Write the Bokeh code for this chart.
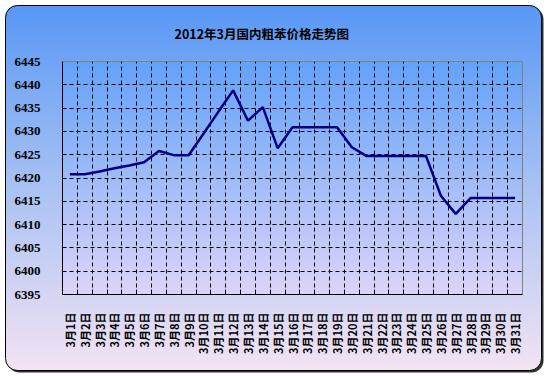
import numpy as np
from urllib.parse import quote
from bokeh.plotting import figure
from bokeh.models import Range1d, FixedTicker
from bokeh.embed import file_html
from bokeh.resources import INLINE

# ---- data ----
title_text = "2012年3月国内粗苯价格走势图"
dates = [f"3月{d}日" for d in range(1, 32)]
prices = [6420.8, 6420.8, 6421.4, 6422.1, 6422.7, 6423.4, 6425.8, 6424.9, 6424.9,
          6429.5, 6434.2, 6438.8, 6432.3, 6435.2, 6426.4, 6430.9, 6430.9, 6430.9,
          6430.9, 6426.6, 6424.7, 6424.7, 6424.7, 6424.7, 6424.7, 6416.2, 6412.3,
          6415.7, 6415.7, 6415.7, 6415.7]
y_ticks = list(range(6395, 6446, 5))

W, H = 548, 376
FL, FT, FR, FB = 62, 61, 522, 294   # frame edges (canvas px)

# decorative background: rounded gradient panel + plot-area gradient
svg = (
    "<svg xmlns='http://www.w3.org/2000/svg' width='548' height='376'>"
    "<defs>"
    "<linearGradient id='g' x1='0' y1='0' x2='0' y2='1'>"
    "<stop offset='0' stop-color='#5797f5'/><stop offset='0.5' stop-color='#a9c2f3'/>"
    "<stop offset='1' stop-color='#f3e3f3'/></linearGradient>"
    "<linearGradient id='f' x1='0' y1='0' x2='0' y2='1'>"
    "<stop offset='0' stop-color='#62a2f8'/><stop offset='1' stop-color='#dcd4f8'/>"
    "</linearGradient></defs>"
    "<rect x='7.5' y='7.5' width='536' height='365' rx='12' fill='#303030'/>"
    "<rect x='5.5' y='5.5' width='536' height='365' rx='12' fill='url(#g)' stroke='black'/>"
    f"<rect x='{FL}' y='{FT}' width='{FR - FL}' height='{FB - FT}' fill='url(#f)'/>"
    "</svg>"
)

p = figure(width=W, height=H, output_backend="svg", toolbar_location=None,
           x_range=Range1d(0.5, len(dates) + 0.5), y_range=Range1d(6395, 6445),
           min_border_left=FL, min_border_right=W - FR,
           min_border_top=FT, min_border_bottom=H - FB)
p.styles = {"background-image": 'url("data:image/svg+xml;utf8,' + quote(svg) + '")',
            "background-repeat": "no-repeat"}
p.border_fill_color = None
p.background_fill_color = None
p.outline_line_color = "#808080"
p.outline_line_width = 1

# ---- title ----
p.title.text = title_text
p.title.align = "left"
p.title.offset = 112
p.title.standoff = 38
p.title.text_font = "Noto Sans CJK SC"
p.title.text_font_style = "bold"
p.title.text_font_size = "12.5px"
p.title.text_color = "black"

# ---- data line ----
xs = list(range(1, len(dates) + 1))
p.line(xs, prices, line_color="#000080", line_width=2.5)

# ---- axes ----
bounds = [i + 0.5 for i in range(1, len(dates))]
xa = p.xaxis[0]
xa.ticker = FixedTicker(ticks=xs, minor_ticks=bounds)
xa.major_label_overrides = {x: d for x, d in zip(xs, dates)}
xa.major_label_orientation = np.pi / 2
xa.major_tick_line_color = None
xa.minor_tick_line_color = "black"
xa.minor_tick_in = 5
xa.minor_tick_out = 0
xa.axis_line_color = "black"
xa.major_label_standoff = 12
xa.major_label_text_font = "Noto Sans CJK SC"
xa.major_label_text_font_style = "bold"
xa.major_label_text_font_size = "11px"
xa.major_label_text_color = "black"

ya = p.yaxis[0]
ya.ticker = FixedTicker(ticks=y_ticks)
ya.major_tick_line_color = None
ya.minor_tick_line_color = None
ya.axis_line_color = "black"
ya.major_label_standoff = 16
ya.major_label_text_font = "Liberation Serif"
ya.major_label_text_font_style = "bold"
ya.major_label_text_font_size = "13px"
ya.major_label_text_color = "black"

p.xgrid.ticker = FixedTicker(ticks=bounds)
p.ygrid.ticker = FixedTicker(ticks=y_ticks)
for g in (p.xgrid, p.ygrid):
    g.grid_line_color = "black"
    g.grid_line_dash = "4 3"
    g.grid_line_width = 1
    g.grid_line_alpha = 1

open("out.html", "w").write(file_html(p, INLINE))
